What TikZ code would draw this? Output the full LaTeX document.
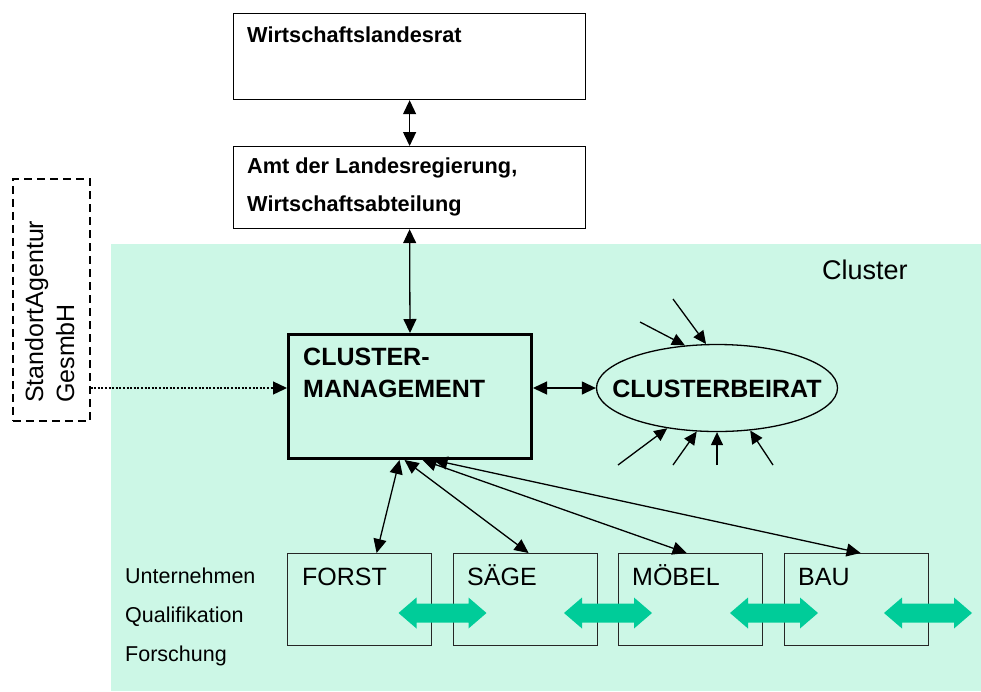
\documentclass[tikz,border=0pt]{standalone}
\usepackage{fontspec}
\setmainfont{Liberation Sans}
\usetikzlibrary{arrows.meta,shapes.geometric}
\definecolor{mint}{RGB}{204,247,230}
\definecolor{arrowgreen}{RGB}{0,204,153}
\begin{document}
\begin{tikzpicture}[x=1pt,y=-1pt,
  box/.style={draw, line width=1.2pt, inner sep=0, anchor=north west},
  lbl/.style={anchor=base west, inner sep=0},
  bigbold/.style={font=\bfseries\fontsize{25}{28}\selectfont},
  midbold/.style={font=\bfseries\fontsize{21.7}{24}\selectfont},
  plain/.style={font=\fontsize{21.5}{24}\selectfont},
  boxtext/.style={font=\fontsize{25}{28}\selectfont},
  conn/.style={line width=1.3pt},
  tip/.style={conn, -{Triangle[length=13pt,width=12pt]}},
  dtip/.style={conn, {Triangle[length=14pt,width=13pt]}-{Triangle[length=14pt,width=13pt]}},
  dblarrow/.pic={\fill[arrowgreen] (-44,0) -- (-26,-15.5) -- (-26,-9.5) -- (26,-9.5) -- (26,-15.5) -- (44,0) -- (26,15.5) -- (26,9.5) -- (-26,9.5) -- (-26,15.5) -- cycle;}
]
\useasboundingbox (0,0) rectangle (981,691);
\fill[white] (0,0) rectangle (981,691);

% cluster area
\node[fill=mint, anchor=north west, inner sep=0, minimum width=870pt, minimum height=447pt] (cluster) at (111,244) {};
\node[lbl, font=\fontsize{27}{30}\selectfont] (clusterlbl) at (822,279) {Cluster};

% top boxes
\node[box, minimum width=352pt, minimum height=86pt] (wlr) at (233,13) {};
\node[lbl, midbold] (wlrt) at (247,42) {Wirtschaftslandesrat};
\node[box, minimum width=352pt, minimum height=82pt] (amt) at (233,146) {};
\node[lbl, midbold] (amt1) at (247,173) {Amt der Landesregierung,};
\node[lbl, midbold] (amt2) at (247,211) {Wirtschaftsabteilung};

% StandortAgentur
\node[box, line width=1.5pt, dash pattern=on 8pt off 5pt, minimum width=77pt, minimum height=242pt] (sa) at (12,178) {};
\node[lbl, rotate=90, font=\fontsize{25}{28}\selectfont] (sa1) at (43,403) {StandortAgentur};
\node[lbl, rotate=90, font=\fontsize{25}{28}\selectfont] (sa2) at (74,403) {GesmbH};

% cluster management
\node[box, line width=3pt, minimum width=243pt, minimum height=124pt] (cm) at (287,333) {};
\node[lbl, bigbold] (cm1) at (303,365) {CLUSTER-};
\node[lbl, bigbold] (cm2) at (303,397) {MANAGEMENT};

% Clusterbeirat
\node[draw, ellipse, line width=1.3pt, inner sep=0, minimum width=241pt, minimum height=87pt] (cb) at (717,388) {};
\node[anchor=base, inner sep=0, bigbold] (cbt) at (717,397) {CLUSTERBEIRAT};

% bottom boxes
\node[box, draw=black!85, minimum width=144pt, minimum height=92pt] (forst) at (287,553) {};
\node[box, draw=black!85, minimum width=144pt, minimum height=92pt] (saege) at (453,553) {};
\node[box, draw=black!85, minimum width=144pt, minimum height=92pt] (moebel) at (618,553) {};
\node[box, draw=black!85, minimum width=144pt, minimum height=92pt] (bau) at (784,553) {};
\node[lbl, boxtext] (forstt) at (302,585) {FORST};
\node[lbl, boxtext] (saeget) at (467,585) {SÄGE};
\node[lbl, boxtext] (moebelt) at (632,585) {MÖBEL};
\node[lbl, boxtext] (baut) at (798,585) {BAU};

% left labels
\node[lbl, plain] (l1) at (125,583) {Unternehmen};
\node[lbl, plain] (l2) at (125,622) {Qualifikation};
\node[lbl, plain] (l3) at (125,661) {Forschung};

% green double arrows
\pic at (442.5,613) {dblarrow};
\pic at (608,613) {dblarrow};
\pic at (774,613) {dblarrow};
\pic at (928,613) {dblarrow};

% connectors
\draw[dtip] (wlr.south) -- (amt.north);
\draw[dtip] (amt.south) -- (cm.north);
\draw[dtip] (cm.east |- cb.west) -- (cb.west);
\draw[conn, dash pattern=on 2pt off 1.6pt, -{Triangle[length=14pt,width=13pt]}] (sa.east |- cb.west) -- (cm.west |- cb.west);

\draw[dtip] ([xshift=-10.5pt]cm.south) -- ([xshift=17pt]forst.north);
\draw[dtip] ([xshift=-5.5pt]cm.south) -- ([xshift=3pt]saege.north);
\draw[dtip] ([xshift=12.5pt]cm.south) -- ([xshift=-4pt]moebel.north);
\draw[dtip] ([xshift=23.5pt]cm.south) -- ([xshift=4pt]bau.north);

% inputs to Clusterbeirat
\coordinate (i1) at (673,299);
\coordinate (i2) at (640,322);
\coordinate (i3) at (618,465);
\coordinate (i4) at (673,465);
\coordinate (i5) at (717,465);
\coordinate (i6) at (773,465);
\draw[tip] (i1) -- (cb.104);
\draw[tip] (i2) -- (cb.127);
\draw[tip] (i3) -- (cb.219);
\draw[tip] (i4) -- (cb.245);
\draw[tip] (i5) -- (cb.270);
\draw[tip] (i6) -- (cb.308);
\end{tikzpicture}
\end{document}
